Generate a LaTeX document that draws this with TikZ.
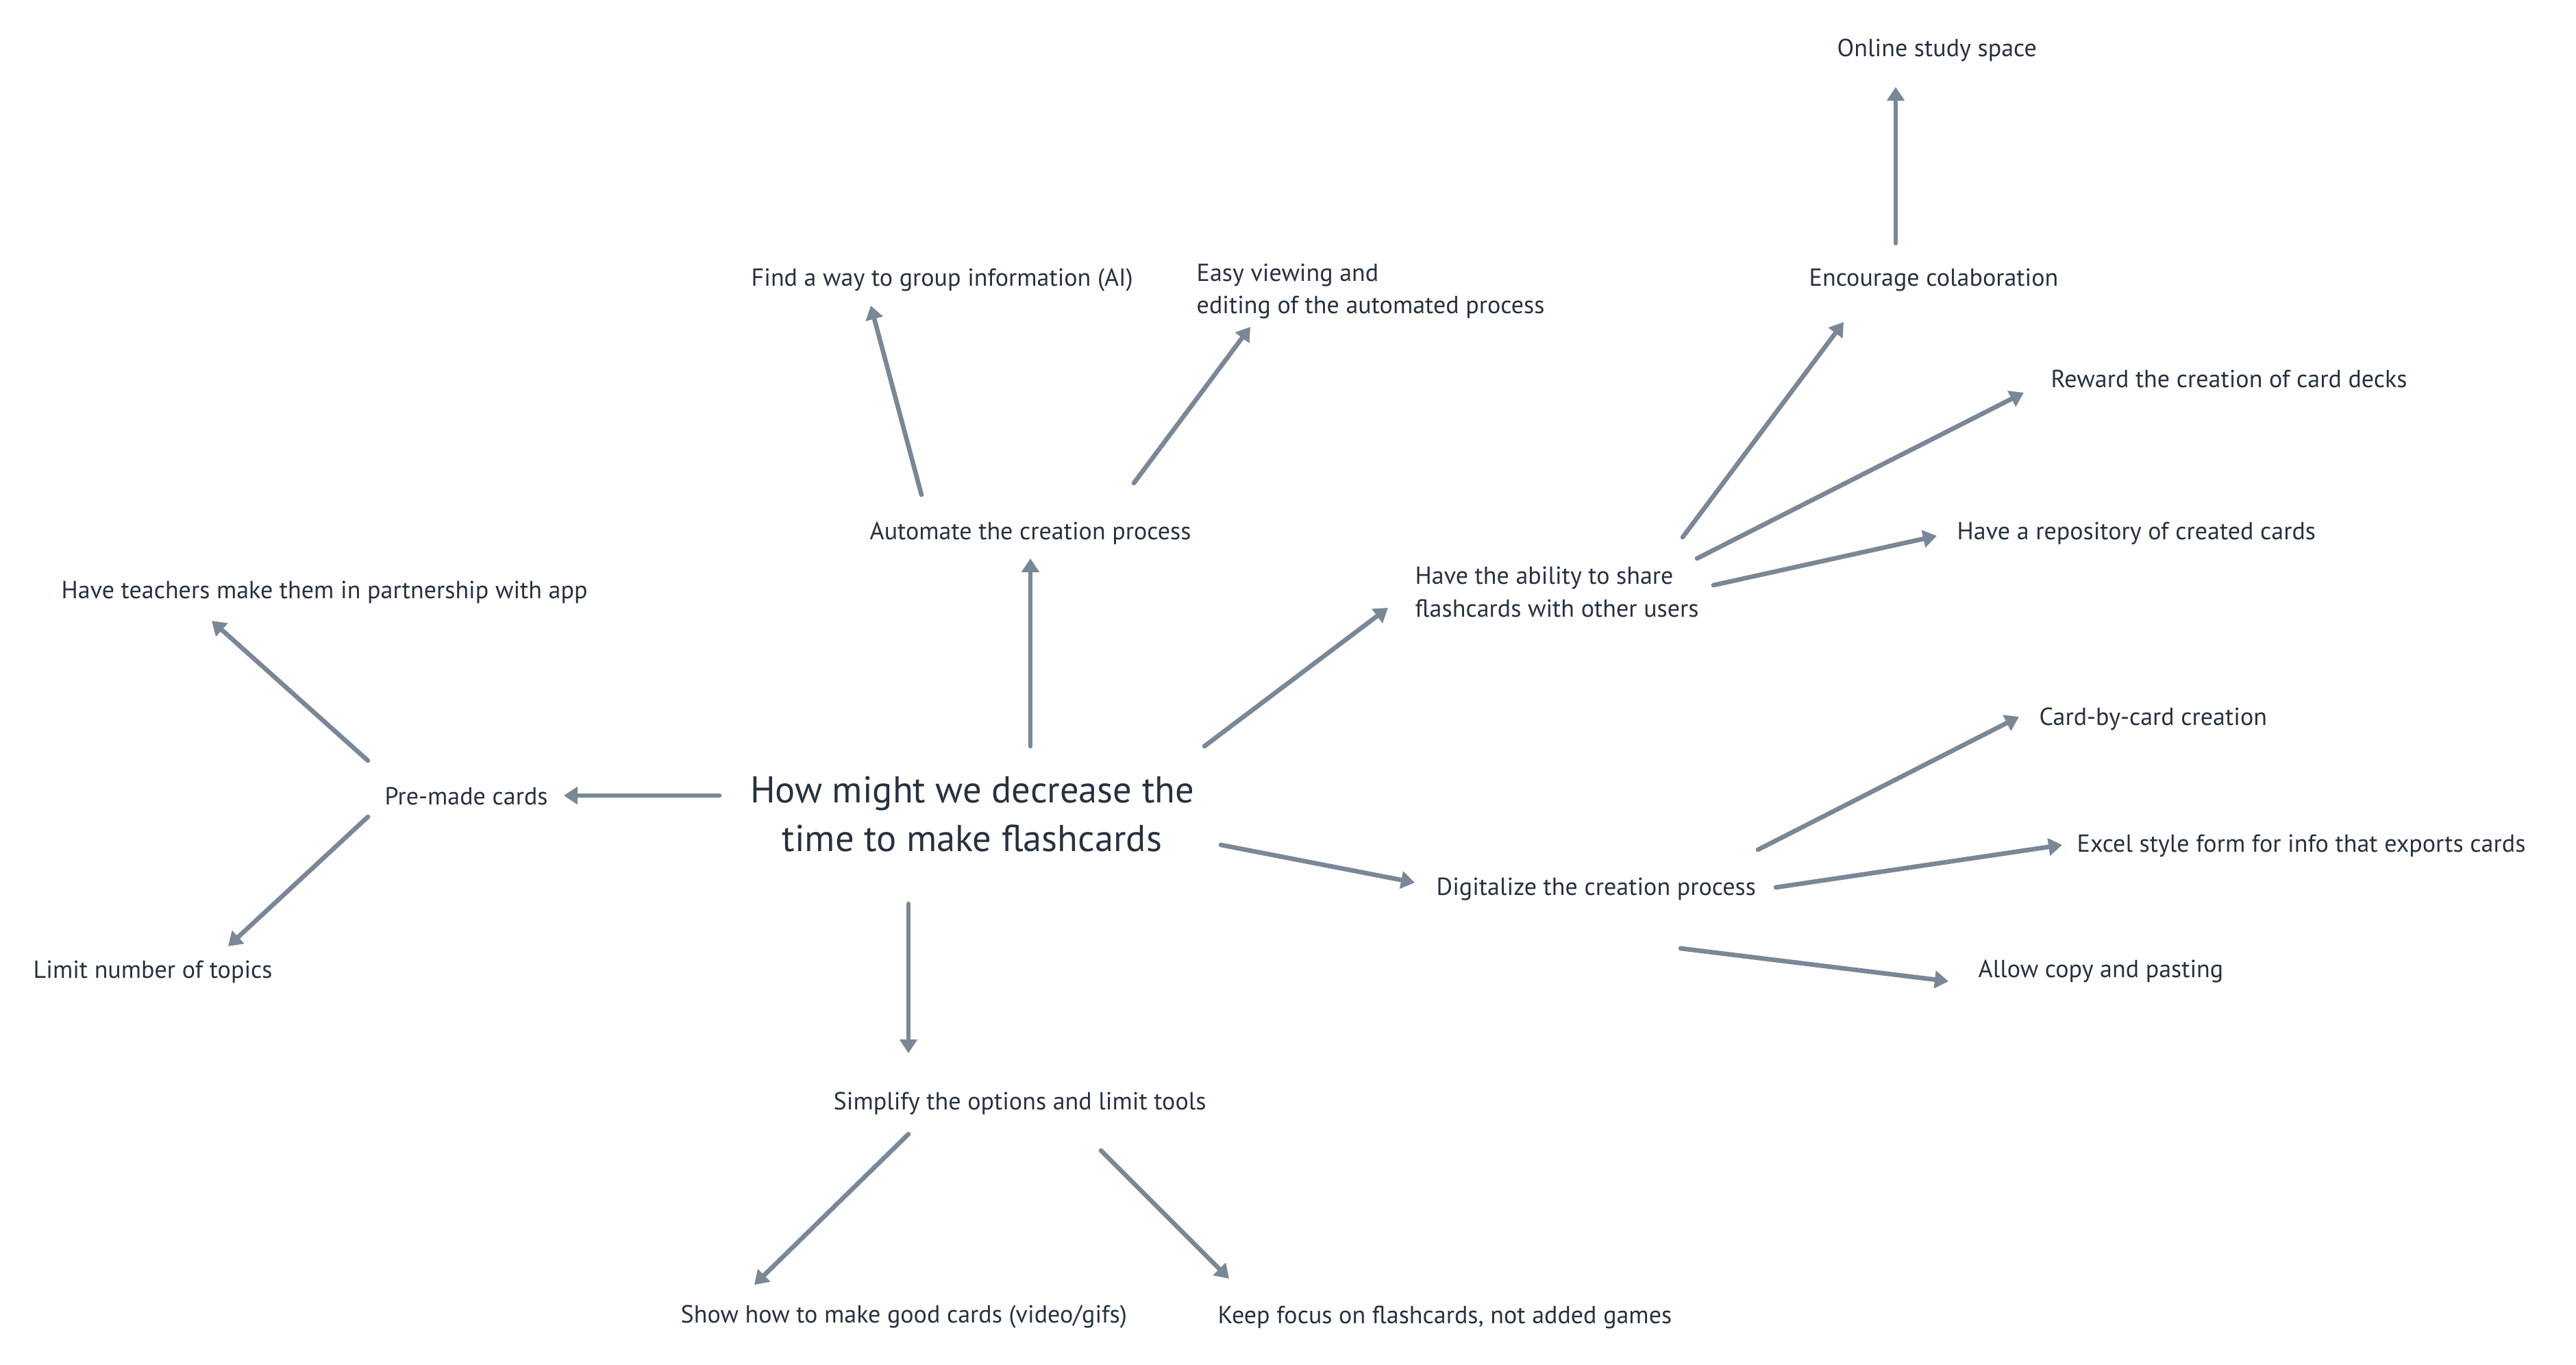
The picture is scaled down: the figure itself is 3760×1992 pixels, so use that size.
\documentclass[tikz,border=0pt]{standalone}
\usepackage{fontspec}
\setmainfont{PT Sans}
\usetikzlibrary{arrows.meta}
\definecolor{inkline}{HTML}{7A8796}
\definecolor{inktext}{HTML}{263140}
\tikzset{
  idea/.style={anchor=west, inner sep=0pt, text=inktext, font=\fontsize{10.25}{13.6}\selectfont, align=left},
  hub/.style={anchor=center, inner sep=0pt, text=inktext, font=\fontsize{15.5}{20.4}\selectfont, align=center},
  link/.style={draw=inkline, line width=1.9pt, line cap=round, -{Triangle[length=0.2cm,width=0.25cm]}}
}
\begin{document}
\begin{tikzpicture}[x=0.01cm, y=-0.01cm]
\useasboundingbox (0,0) rectangle (3760,1992);

% central question
\node[hub] (central) at (1419,1188) {How might we decrease the\\time to make flashcards};

% first ring of ideas
\node[idea] (automate) at (1269,778) {Automate the creation process};
\node[idea] (premade) at (561,1162) {Pre-made cards};
\node[idea] (simplify) at (1216,1610) {Simplify the options and limit tools};
\node[idea] (share) at (2065,864) {Have the ability to share\\flashcards with other users};
\node[idea] (digital) at (2096,1298) {Digitalize the creation process};

% second ring of ideas
\node[idea] (group) at (1096,409) {Find a way to group information (AI)};
\node[idea] (easy) at (1746,425) {Easy viewing and\\editing of the automated process};
\node[idea] (teachers) at (89,864) {Have teachers make them in partnership with app};
\node[idea] (limit) at (48,1418) {Limit number of topics};
\node[idea] (howto) at (993,1922) {Show how to make good cards (video/gifs)};
\node[idea] (focus) at (1777,1922) {Keep focus on flashcards, not added games};
\node[idea] (encourage) at (2640,409) {Encourage colaboration};
\node[idea] (online) at (2681,73) {Online study space};
\node[idea] (reward) at (2993,553) {Reward the creation of card decks};
\node[idea] (repo) at (2856,778) {Have a repository of created cards};
\node[idea] (cardwise) at (2976,1049) {Card-by-card creation};
\node[idea] (excel) at (3031,1234) {Excel style form for info that exports cards};
\node[idea] (paste) at (2887,1418) {Allow copy and pasting};

% arrow end points
\coordinate (c-au-s) at (1504,1089); \coordinate (c-au-e) at (1504,815);
\coordinate (au-gr-s) at (1345,722); \coordinate (au-gr-e) at (1271,446);
\coordinate (au-ea-s) at (1655,705); \coordinate (au-ea-e) at (1825,477);
\coordinate (c-pm-s) at (1050,1161); \coordinate (c-pm-e) at (823,1161);
\coordinate (pm-te-s) at (537,1110); \coordinate (pm-te-e) at (309,906);
\coordinate (pm-li-s) at (537,1192); \coordinate (pm-li-e) at (333,1381);
\coordinate (c-si-s) at (1326,1319); \coordinate (c-si-e) at (1326,1537);
\coordinate (si-ho-s) at (1326,1655); \coordinate (si-ho-e) at (1101,1875);
\coordinate (si-fo-s) at (1607,1679); \coordinate (si-fo-e) at (1794,1866);
\coordinate (c-sh-s) at (1758,1089); \coordinate (c-sh-e) at (2026,887);
\coordinate (c-di-s) at (1782,1233); \coordinate (c-di-e) at (2065,1288);
\coordinate (sh-en-s) at (2456,784); \coordinate (sh-en-e) at (2691,470);
\coordinate (sh-re-s) at (2477,815); \coordinate (sh-re-e) at (2954,573);
\coordinate (sh-rp-s) at (2501,854); \coordinate (sh-rp-e) at (2827,782);
\coordinate (en-on-s) at (2767,355); \coordinate (en-on-e) at (2767,127);
\coordinate (di-ca-s) at (2566,1240); \coordinate (di-ca-e) at (2947,1046);
\coordinate (di-ex-s) at (2592,1295); \coordinate (di-ex-e) at (3010,1233);
\coordinate (di-pa-s) at (2453,1384); \coordinate (di-pa-e) at (2844,1432);

% connectors
\draw[link] (c-au-s) -- (c-au-e);
\draw[link] (au-gr-s) -- (au-gr-e);
\draw[link] (au-ea-s) -- (au-ea-e);
\draw[link] (c-pm-s) -- (c-pm-e);
\draw[link] (pm-te-s) -- (pm-te-e);
\draw[link] (pm-li-s) -- (pm-li-e);
\draw[link] (c-si-s) -- (c-si-e);
\draw[link] (si-ho-s) -- (si-ho-e);
\draw[link] (si-fo-s) -- (si-fo-e);
\draw[link] (c-sh-s) -- (c-sh-e);
\draw[link] (c-di-s) -- (c-di-e);
\draw[link] (sh-en-s) -- (sh-en-e);
\draw[link] (sh-re-s) -- (sh-re-e);
\draw[link] (sh-rp-s) -- (sh-rp-e);
\draw[link] (en-on-s) -- (en-on-e);
\draw[link] (di-ca-s) -- (di-ca-e);
\draw[link] (di-ex-s) -- (di-ex-e);
\draw[link] (di-pa-s) -- (di-pa-e);
\end{tikzpicture}
\end{document}
